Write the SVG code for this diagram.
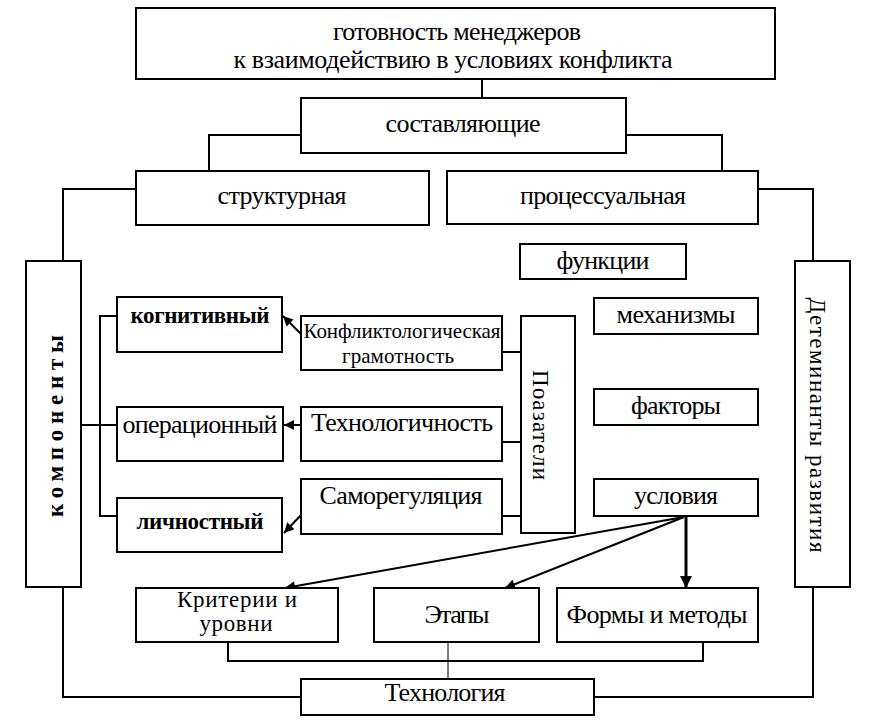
<svg xmlns="http://www.w3.org/2000/svg" width="880" height="722" viewBox="0 0 880 722">
<defs>
<style>
.b{fill:#fff;stroke:#000;stroke-width:2}
.c{fill:none;stroke:#000;stroke-width:2}
.t{font-family:"Liberation Serif","Times New Roman",serif;font-size:26px;fill:#000;text-anchor:middle}
.s{font-size:21px}
.m{font-size:23px}
.bd{font-weight:bold;font-size:23px}
</style>
<marker id="ah" viewBox="0 0 10 10" refX="10" refY="5" markerWidth="12" markerHeight="10" markerUnits="userSpaceOnUse" orient="auto"><path d="M0,0 L10,5 L0,10 z" fill="#000"/></marker>
<marker id="ahb" viewBox="0 0 10 10" refX="10" refY="5" markerWidth="14" markerHeight="12" markerUnits="userSpaceOnUse" orient="auto"><path d="M0,0 L10,5 L0,10 z" fill="#000"/></marker>
</defs>
<rect width="880" height="722" fill="#fff"/>
<g id="connectors">
<path class="c" d="M482,79 V98"/>
<path class="c" d="M301,135 H209 V171"/>
<path class="c" d="M626,135 H722 V171"/>
<path class="c" d="M136,189 H63 V261"/>
<path class="c" d="M758,189 H813 V261"/>
<path class="c" d="M117,316 H100 V516 H117"/>
<path class="c" d="M81,425 H117"/>
<path class="c" d="M502,352 H521 M502,442 H521 M502,516 H521"/>
<path class="c" d="M228,642 V661 H703 V642"/>
<path class="c" style="stroke-width:1" d="M448,642 V679"/>
<path class="c" d="M63,587 V697 H301"/>
<path class="c" d="M813,587 V697 H594"/>
<line class="c" x1="301" y1="334" x2="283" y2="316" marker-end="url(#ah)"/>
<line class="c" x1="301" y1="425" x2="284" y2="425" marker-end="url(#ah)"/>
<line class="c" x1="301" y1="515" x2="284" y2="533" marker-end="url(#ah)"/>
<line class="c" x1="684" y1="517" x2="285" y2="588" marker-end="url(#ah)"/>
<line class="c" x1="684" y1="517" x2="505" y2="588" marker-end="url(#ah)"/>
<line class="c" style="stroke-width:3" x1="686" y1="517" x2="686" y2="588" marker-end="url(#ahb)"/>
</g>
<g id="n-top"><rect class="b" x="136" y="8" width="639" height="71"/><text class="t" x="457" y="40" textLength="248">готовность менеджеров</text><text class="t" x="453" y="68" textLength="439">к взаимодействию в условиях конфликта</text></g>
<g id="n-sostav"><rect class="b" x="301" y="98" width="325" height="55"/><text class="t" x="463" y="132" textLength="155">составляющие</text></g>
<g id="n-struct"><rect class="b" x="136" y="171" width="293" height="54"/><text class="t" x="282" y="204" textLength="129">структурная</text></g>
<g id="n-proc"><rect class="b" x="447" y="171" width="311" height="53"/><text class="t" x="603" y="204" textLength="166">процессуальная</text></g>
<g id="n-komp"><rect class="b" x="26" y="261" width="55" height="326"/><text class="t bd" transform="translate(56,426) rotate(-90)" x="0" y="7" textLength="182" lengthAdjust="spacing">компоненты</text></g>
<g id="n-determ"><rect class="b" x="795" y="261" width="55" height="326"/><text class="t m" transform="translate(818,425) rotate(90)" x="0" y="8" textLength="255">Детеминанты развития</text></g>
<g id="n-func"><rect class="b" x="520" y="244" width="166" height="35"/><text class="t" x="603" y="269" textLength="93">функции</text></g>
<g id="n-mech"><rect class="b" x="594" y="298" width="164" height="36"/><text class="t" x="676" y="323" textLength="119">механизмы</text></g>
<g id="n-fakt"><rect class="b" x="594" y="389" width="164" height="36"/><text class="t" x="676" y="414" textLength="90">факторы</text></g>
<g id="n-usl"><rect class="b" x="594" y="479" width="164" height="37"/><text class="t" x="676" y="504" textLength="84">условия</text></g>
<g id="n-poaz"><rect class="b" x="521" y="316" width="54" height="217"/><text class="t m" transform="translate(541,425) rotate(90)" x="0" y="8" textLength="110">Поазатели</text></g>
<g id="n-kogn"><rect class="b" x="117" y="297" width="165" height="55"/><text class="t bd" x="200" y="323" textLength="139">когнитивный</text></g>
<g id="n-konfl"><rect class="b" x="301" y="316" width="201" height="54"/><text class="t s" x="402" y="338" textLength="197">Конфликтологическая</text><text class="t s" x="398" y="363" textLength="112">грамотность</text></g>
<g id="n-oper"><rect class="b" x="117" y="407" width="166" height="54"/><text class="t" x="200" y="433" textLength="155">операционный</text></g>
<g id="n-tech"><rect class="b" x="301" y="407" width="201" height="54"/><text class="t" x="402" y="431" textLength="182">Технологичность</text></g>
<g id="n-samo"><rect class="b" x="301" y="479" width="201" height="55"/><text class="t" x="401" y="504" textLength="163">Саморегуляция</text></g>
<g id="n-lich"><rect class="b" x="117" y="498" width="165" height="54"/><text class="t bd" x="200" y="529" textLength="127">личностный</text></g>
<g id="n-krit"><rect class="b" x="136" y="588" width="202" height="54"/><text class="t m" x="237" y="607" textLength="120">Критерии и</text><text class="t m" x="236" y="631" textLength="73">уровни</text></g>
<g id="n-etap"><rect class="b" x="374" y="588" width="165" height="54"/><text class="t" x="457" y="623" textLength="65">Этапы</text></g>
<g id="n-formy"><rect class="b" x="557" y="588" width="201" height="54"/><text class="t" x="657" y="623" textLength="181">Формы и методы</text></g>
<g id="n-techn"><rect class="b" x="301" y="679" width="293" height="36"/><text class="t" x="445" y="701" textLength="121">Технология</text></g>
</svg>
